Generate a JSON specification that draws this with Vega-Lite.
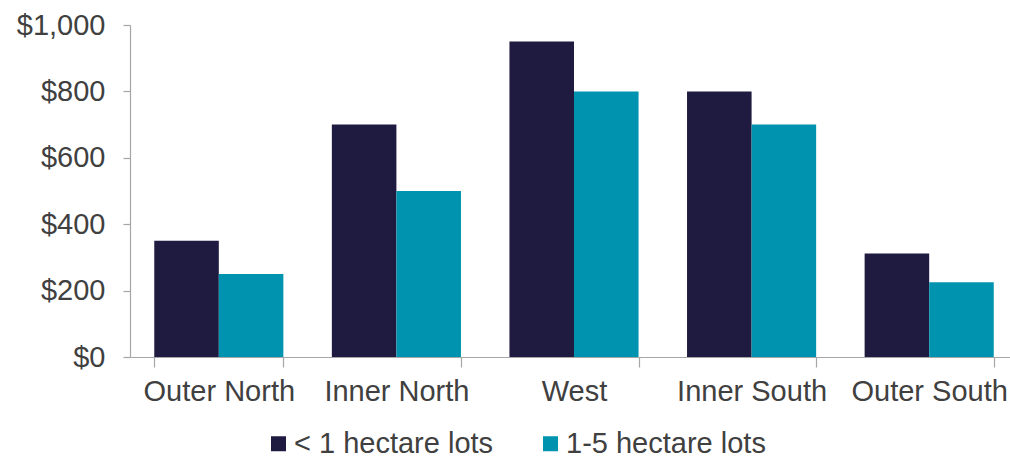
{
  "$schema": "https://vega.github.io/schema/vega-lite/v6.json",
  "autosize": "none",
  "width": 888,
  "height": 332,
  "padding": {"left": 130, "top": 25, "right": 0, "bottom": 104},
  "background": "white",
  "config": {
    "view": {"stroke": null},
    "font": "Liberation Sans"
  },
  "data": {
    "values": [
      {"region": "Outer North", "lot": "< 1 hectare lots", "price": 350},
      {"region": "Outer North", "lot": "1-5 hectare lots", "price": 250},
      {"region": "Inner North", "lot": "< 1 hectare lots", "price": 700},
      {"region": "Inner North", "lot": "1-5 hectare lots", "price": 500},
      {"region": "West", "lot": "< 1 hectare lots", "price": 950},
      {"region": "West", "lot": "1-5 hectare lots", "price": 800},
      {"region": "Inner South", "lot": "< 1 hectare lots", "price": 800},
      {"region": "Inner South", "lot": "1-5 hectare lots", "price": 700},
      {"region": "Outer South", "lot": "< 1 hectare lots", "price": 312},
      {"region": "Outer South", "lot": "1-5 hectare lots", "price": 225}
    ]
  },
  "mark": {"type": "bar"},
  "encoding": {
    "x": {
      "field": "region",
      "type": "nominal",
      "sort": ["Outer North", "Inner North", "West", "Inner South", "Outer South"],
      "scale": {"paddingInner": 0.273, "paddingOuter": 0.1366},
      "axis": {
        "title": null,
        "labelAngle": 0,
        "labelFontSize": 29,
        "labelColor": "#404040",
        "labelPadding": 10,
        "tickBand": "extent",
        "tickSize": 10,
        "tickColor": "#a6a6a6",
        "domainColor": "#a6a6a6",
        "domainWidth": 1.2,
        "tickWidth": 1.2,
        "labelFont": "Liberation Sans"
      }
    },
    "xOffset": {
      "field": "lot",
      "type": "nominal",
      "sort": ["< 1 hectare lots", "1-5 hectare lots"],
      "scale": {"paddingInner": 0, "paddingOuter": 0}
    },
    "y": {
      "field": "price",
      "type": "quantitative",
      "scale": {"domain": [0, 1000], "nice": false},
      "axis": {
        "title": null,
        "values": [0, 200, 400, 600, 800, 1000],
        "format": "$,.0f",
        "grid": false,
        "labelFontSize": 29,
        "labelColor": "#404040",
        "labelPadding": 18,
        "tickSize": 7,
        "tickColor": "#a6a6a6",
        "domainColor": "#a6a6a6",
        "domainWidth": 1.2,
        "tickWidth": 1.2,
        "labelFont": "Liberation Sans"
      }
    },
    "color": {
      "field": "lot",
      "type": "nominal",
      "sort": ["< 1 hectare lots", "1-5 hectare lots"],
      "scale": {"domain": ["< 1 hectare lots", "1-5 hectare lots"], "range": ["#1f1a40", "#0093af"]},
      "legend": {
        "title": null,
        "orient": "none",
        "direction": "horizontal",
        "legendX": 134,
        "legendY": 404,
        "symbolType": "square",
        "symbolSize": 225,
        "symbolStrokeWidth": 0,
        "labelFontSize": 29,
        "labelColor": "#404040",
        "labelOffset": 1,
        "columnPadding": 42,
        "labelFont": "Liberation Sans",
        "labelLimit": 400
      }
    }
  }
}
